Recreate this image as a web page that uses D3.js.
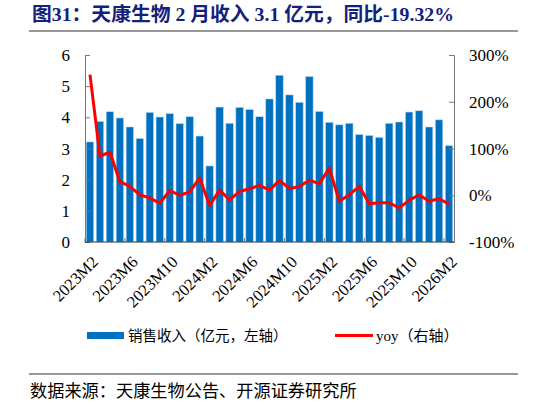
<!DOCTYPE html>
<html>
<head>
<meta charset="utf-8">
<script src="https://cdn.jsdelivr.net/npm/d3@7/dist/d3.min.js"></script>
<style>
  body { margin: 0; background: #fff; }
  svg { display: block; }
</style>
</head>
<body>
<svg id="chart" width="546" height="405"></svg>
<script>
// months 2023M2 .. 2026M2
var months = [];
for (var yr = 2023, m = 2; months.length < 37; m++) {
    if (m > 12) { m = 1; yr++; }
    months.push(yr + "M" + m);
}
var sales = [3.21, 3.87, 4.18, 3.98, 3.69, 3.32, 4.16, 4.01, 4.12, 3.80, 4.02, 3.40,
             2.44, 4.33, 3.81, 4.32, 4.25, 4.02, 4.59, 5.35, 4.72, 4.48, 5.31, 4.19,
             3.84, 3.76, 3.81, 3.45, 3.42, 3.36, 3.81, 3.85, 4.17, 4.21, 3.69, 3.92, 3.09];
var yoy = [258, 84, 92, 29, 19, 1, -6, -17, 10, 0, 7, 37,
           -22, 11, -10, 8, 14, 21, 11, 32, 14, 19, 32, 25,
           58, -13, 1, 19, -18, -16, -16, -27, -11, 1, -13, -7, -19.32];
var leftTicks = [0, 1, 2, 3, 4, 5, 6];
var rightTicks = [-100, 0, 100, 200, 300];
var labelMonths = months.filter(function(d, i) { return i % 4 === 0; });

(function() {
    var svg = d3.select("#chart");
    var serif = "'Liberation Serif', 'Times New Roman', serif";
    var cjk = "'Noto Sans CJK SC', sans-serif";

    var pLeft = 85, pRight = 454, pTop = 55, pBottom = 242;

    var x = d3.scaleBand().domain(months).range([pLeft, pRight]).paddingInner(0.25).paddingOuter(0.125);
    var yL = d3.scaleLinear().domain([0, 6]).range([pBottom, pTop]);
    var yR = d3.scaleLinear().domain([-100, 300]).range([pBottom, pTop]);

    // title
    svg.append("text")
        .attr("x", 32).attr("y", 21)
        .attr("fill", "#14207a")
        .attr("font-family", serif + ", " + cjk)
        .attr("font-weight", "bold").attr("font-size", 19.8)
        .text("图31：天康生物 2 月收入 3.1 亿元，同比-19.32%");
    svg.append("line").attr("x1", 29).attr("x2", 518).attr("y1", 31).attr("y2", 31)
        .attr("stroke", "#333").attr("stroke-width", 1);

    // bars
    svg.append("g").selectAll("rect").data(sales).enter().append("rect")
        .attr("x", function(d, i) { return x(months[i]); })
        .attr("width", x.bandwidth())
        .attr("y", function(d) { return yL(d); })
        .attr("height", function(d) { return pBottom - yL(d); })
        .attr("fill", "#0070c0")
        .attr("stroke", "#bcd7ef").attr("stroke-width", 0.6);

    // left axis
    var axL = svg.append("g").attr("transform", "translate(" + pLeft + ",0)")
        .call(d3.axisRight(yL).tickValues(leftTicks).tickSize(5).tickFormat(""));
    axL.selectAll("path, line").attr("stroke", "#777");
    svg.append("g").selectAll("text").data(leftTicks).enter().append("text")
        .attr("x", 70).attr("y", function(d) { return yL(d) + 6; })
        .attr("text-anchor", "end")
        .attr("font-family", serif).attr("font-size", 17)
        .text(function(d) { return d; });

    // right axis
    var axR = svg.append("g").attr("transform", "translate(" + pRight + ",0)")
        .call(d3.axisLeft(yR).tickValues(rightTicks).tickSize(5).tickFormat(""));
    axR.selectAll("path, line").attr("stroke", "#777");
    svg.append("g").selectAll("text").data(rightTicks).enter().append("text")
        .attr("x", 469).attr("y", function(d) { return yR(d) + 6; })
        .attr("font-family", serif).attr("font-size", 17)
        .text(function(d) { return d + "%"; });

    // bottom axis, ticks every 4 months
    var step = x.step();
    var tickXs = labelMonths.map(function(m) { return x(m) - x.paddingInner() * step / 2; });
    svg.append("g").selectAll("line").data(tickXs).enter().append("line")
        .attr("x1", function(d) { return d; }).attr("x2", function(d) { return d; })
        .attr("y1", pBottom).attr("y2", pBottom - 4)
        .attr("stroke", "#777");
    svg.append("line").attr("x1", pLeft).attr("x2", pRight).attr("y1", pBottom).attr("y2", pBottom)
        .attr("stroke", "#333").attr("stroke-width", 1.2);

    svg.append("g").selectAll("text").data(labelMonths).enter().append("text")
        .attr("transform", function(m) {
            return "translate(" + (x(m) + x.bandwidth() / 2 + 9) + "," + (pBottom + 21) + ") rotate(-45)";
        })
        .attr("text-anchor", "end")
        .attr("font-family", serif).attr("font-size", 16.5)
        .text(function(d) { return d; });

    // yoy line
    var line = d3.line()
        .x(function(d, i) { return x(months[i]) + x.bandwidth() / 2; })
        .y(function(d) { return yR(d); });
    svg.append("path").datum(yoy)
        .attr("d", line)
        .attr("fill", "none").attr("stroke", "#ff0000").attr("stroke-width", 3)
        .attr("stroke-linejoin", "round");

    // legend
    var lg = svg.append("g");
    lg.append("rect").attr("x", 87).attr("y", 332).attr("width", 37).attr("height", 7).attr("fill", "#0070c0");
    lg.append("text").attr("x", 128).attr("y", 341)
        .attr("font-family", cjk).attr("font-size", 14.5)
        .text("销售收入（亿元，左轴）");
    lg.append("line").attr("x1", 335).attr("x2", 373).attr("y1", 335.5).attr("y2", 335.5)
        .attr("stroke", "#ff0000").attr("stroke-width", 3);
    lg.append("text").attr("x", 376).attr("y", 341)
        .attr("font-family", serif + ", " + cjk).attr("font-size", 15)
        .text("yoy（右轴）");

    // source
    svg.append("line").attr("x1", 29).attr("x2", 518).attr("y1", 374).attr("y2", 374)
        .attr("stroke", "#333").attr("stroke-width", 1);
    svg.append("text").attr("x", 30).attr("y", 397)
        .attr("font-family", cjk).attr("font-size", 17.2)
        .text("数据来源：天康生物公告、开源证券研究所");
})();
</script>
</body>
</html>
